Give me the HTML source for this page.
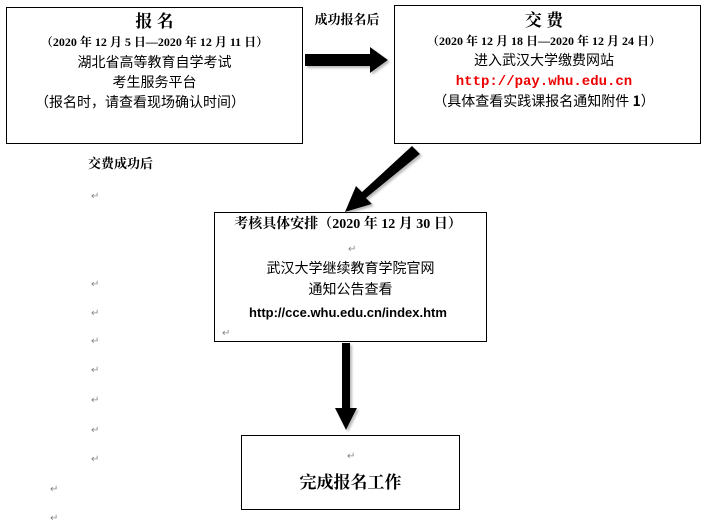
<!DOCTYPE html>
<html><head><meta charset="utf-8"><style>
body{margin:0;width:707px;height:523px;background:#fff;position:relative;overflow:hidden;font-family:"Liberation Serif","Noto Serif CJK SC","Noto Sans CJK SC",serif;color:#000}
.b{position:absolute;border:1.5px solid #000;box-sizing:border-box;background:#fff}
.t{position:absolute;white-space:nowrap;text-align:center;line-height:1}
.r{position:absolute;color:#888;font-size:10px;font-family:"DejaVu Sans",sans-serif}
.s{font-family:"Noto Sans CJK SC",sans-serif}
</style></head><body>
<svg width="707" height="523" style="position:absolute;left:0;top:0">
 <defs><filter id="f"><feDropShadow dx="2" dy="2" stdDeviation="1" flood-color="#bbb"/></filter></defs>
 <g filter="url(#f)" fill="#000">
  <polygon points="305,54 370,54 370,47 388,60 370,73 370,66 305,66"/>
  <polygon points="412,146 420,154 366,198 372,204 345,212 356,186 362,192"/>
  <polygon points="342,343 350,343 350,408 357,408 346,430 335,408 342,408"/>
 </g>
</svg>
<div class="b" style="left:6px;top:7px;width:297px;height:137px"></div>
<div class="b" style="left:394px;top:5px;width:307px;height:139px"></div>
<div class="b" style="left:214px;top:212px;width:273px;height:130px"></div>
<div class="b" style="left:241px;top:435px;width:219px;height:75px"></div>

<div class="t" style="left:6px;width:297px;top:13px;font-size:17px;font-weight:bold">报 名</div>
<div class="t" style="left:6px;width:297px;top:36px;font-size:12px;font-weight:bold">（2020 年 12 月 5 日—2020 年 12 月 11 日）</div>
<div class="t s" style="left:6px;width:297px;top:55px;font-size:14px">湖北省高等教育自学考试</div>
<div class="t s" style="left:6px;width:297px;top:75px;font-size:14px">考生服务平台</div>
<div class="t s" style="left:0px;width:280px;top:95px;font-size:14px">（报名时，请查看现场确认时间）</div>

<div class="t" style="left:306px;width:82px;top:13px;font-size:13px;font-weight:bold">成功报名后</div>

<div class="t" style="left:394px;width:300px;top:12px;font-size:17px;font-weight:bold">交 费</div>
<div class="t" style="left:394px;width:300px;top:35px;font-size:12px;font-weight:bold">（2020 年 12 月 18 日—2020 年 12 月 24 日）</div>
<div class="t s" style="left:394px;width:300px;top:53px;font-size:14px">进入武汉大学缴费网站</div>
<div class="t" style="left:394px;width:300px;top:75px;font-size:14px;color:#e00;font-weight:bold;font-family:'Liberation Mono',monospace">http://pay.whu.edu.cn</div>
<div class="t s" style="left:394px;width:300px;top:94px;font-size:14px">（具体查看实践课报名通知附件 <b>1</b>）</div>

<div class="t" style="left:88px;top:157px;font-size:13px;font-weight:bold">交费成功后</div>

<div class="t" style="left:214px;width:268px;top:218px;font-size:14px;font-weight:bold">考核具体安排（2020 年 12 月 30 日）</div>
<div class="t s" style="left:214px;width:273px;top:261px;font-size:14px">武汉大学继续教育学院官网</div>
<div class="t s" style="left:214px;width:273px;top:282px;font-size:14px">通知公告查看</div>
<div class="t" style="left:214px;width:268px;top:306px;font-size:13px;font-weight:bold;font-family:'Liberation Sans',sans-serif">http://cce.whu.edu.cn/index.htm</div>

<div class="t" style="left:241px;width:219px;top:474px;font-size:17px;font-weight:bold">完成报名工作</div>

<div class="r" style="left:91px;top:191px">↵</div>
<div class="r" style="left:91px;top:279px">↵</div>
<div class="r" style="left:91px;top:308px">↵</div>
<div class="r" style="left:91px;top:336px">↵</div>
<div class="r" style="left:91px;top:365px">↵</div>
<div class="r" style="left:91px;top:395px">↵</div>
<div class="r" style="left:91px;top:425px">↵</div>
<div class="r" style="left:91px;top:454px">↵</div>
<div class="r" style="left:50px;top:484px">↵</div>
<div class="r" style="left:50px;top:513px">↵</div>
<div class="r" style="left:348px;top:244px">↵</div>
<div class="r" style="left:222px;top:328px">↵</div>
<div class="r" style="left:347px;top:451px">↵</div>
</body></html>
